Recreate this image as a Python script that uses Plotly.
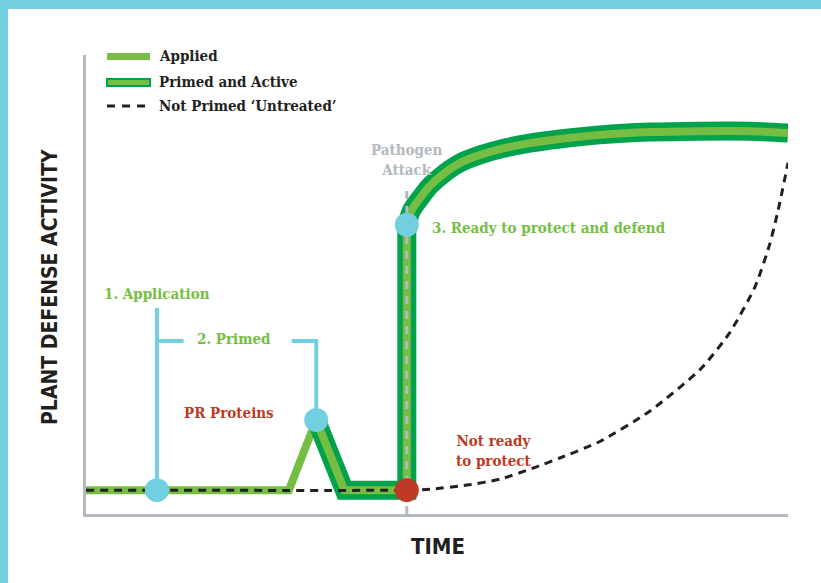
import plotly.graph_objects as go

# time runs 0..100 along the x axis, activity 0..100 up the y axis
baseline = 5.2
app_time = 10.1
rise_start = 28.9
peak_time, peak_level = 32.8, 20.5
drop_end = 36.8
attack_time = 45.7
ready_level = 63.0

# primed and active response after the pathogen attack
primed_t = [45.7, 46.4, 47.6, 49.0, 51.1, 53.3, 56.1, 59.0, 63.2, 67.5, 73.2, 80.3, 87.3, 94.6, 100]
primed_y = [63.0, 66.2, 68.8, 71.5, 74.3, 76.5, 78.2, 79.5, 80.8, 81.7, 82.6, 83.2, 83.4, 83.4, 83.0]

# not primed 'untreated' response
untreated_t = [0, 45.7, 49.0, 54.3, 59.0, 63.7, 67.5, 73.2, 80.3, 87.5, 91.7, 95.3, 97.4, 98.6, 100]
untreated_y = [5.2, 5.2, 5.4, 6.3, 7.6, 10.0, 12.2, 15.8, 22.4, 31.5, 39.5, 49.5, 58.8, 66.2, 76.5]

bracket_level = 37.7
app_top = 44.9
attack_top = 71.7

LIGHT = "#76BE43"
DARK = "#00A24B"
CYAN = "#72CFE0"
RED = "#BE3A26"
GRAY = "#B3B9BF"
INK = "#231F20"
SERIF = "DejaVu Serif Condensed, DejaVu Serif, serif"
BLOCK = "Liberation Sans Narrow, DejaVu Sans Condensed, Arial Narrow, sans-serif"

fig = go.Figure()

# applied line, up to the PR protein peak
fig.add_scatter(
    x=[0, rise_start, peak_time], y=[baseline, baseline, peak_level],
    mode="lines", line=dict(color=LIGHT, width=8), hoverinfo="skip",
)

# primed and active band: straight part, then the smooth rise
straight_t = [peak_time, drop_end, attack_time, attack_time]
straight_y = [peak_level, baseline, baseline, ready_level]
for col, w in [(DARK, 19), (LIGHT, 8)]:
    fig.add_scatter(x=straight_t, y=straight_y, mode="lines",
                    line=dict(color=col, width=w), hoverinfo="skip")
    fig.add_scatter(x=primed_t, y=primed_y, mode="lines",
                    line=dict(color=col, width=w, shape="spline", smoothing=0.8), hoverinfo="skip")

# untreated
fig.add_scatter(
    x=untreated_t, y=untreated_y, mode="lines",
    line=dict(color=INK, width=3, dash="8px,6px", shape="spline", smoothing=0.6),
    hoverinfo="skip",
)

# pathogen attack marker line
fig.add_scatter(
    x=[attack_time, attack_time], y=[0, attack_top], mode="lines",
    line=dict(color=GRAY, width=3, dash="8px,7px"), hoverinfo="skip",
)

# brackets
fig.add_scatter(
    x=[app_time, app_time], y=[baseline, app_top], mode="lines",
    line=dict(color=CYAN, width=4), hoverinfo="skip",
)
fig.add_scatter(
    x=[app_time, 13.9], y=[bracket_level, bracket_level], mode="lines",
    line=dict(color=CYAN, width=4), hoverinfo="skip",
)
fig.add_scatter(
    x=[29.3, peak_time, peak_time], y=[bracket_level, bracket_level, peak_level], mode="lines",
    line=dict(color=CYAN, width=4), hoverinfo="skip",
)

# event markers
fig.add_scatter(
    x=[app_time, peak_time, attack_time], y=[baseline, peak_level, ready_level],
    mode="markers", marker=dict(color=CYAN, size=24, line=dict(width=0)), hoverinfo="skip",
)
fig.add_scatter(
    x=[attack_time], y=[baseline], mode="markers",
    marker=dict(color=RED, size=24, line=dict(width=0)), hoverinfo="skip",
)

labels = [
    ("1. Application", app_time, 47.9, LIGHT, "center"),
    ("2. Primed", 21.1, 38.1, LIGHT, "center"),
    ("PR Proteins", 20.4, 22.0, RED, "center"),
    ("3. Ready to protect and defend", 49.0, 62.3, LIGHT, "left"),
    ("Pathogen<br>Attack", attack_time, 77.1, GRAY, "center"),
    ("Not ready<br>to protect", 58.1, 13.7, RED, "center"),
]
for text, lx, ly, col, anchor in labels:
    fig.add_annotation(
        x=lx, y=ly, text=text, showarrow=False, xanchor=anchor, align="center",
        font=dict(family=SERIF, size=15, color=col, weight="bold"), xref="x", yref="y",
    )


# helpers to place decoration in page pixels
def px(v):
    return (v - 86) / 702


def py(v):
    return (514 - v) / 459


# frame
fig.add_shape(type="rect", xref="paper", yref="paper", x0=px(0), x1=px(821), y0=py(9), y1=py(0),
              fillcolor=CYAN, line_width=0, layer="above")
fig.add_shape(type="rect", xref="paper", yref="paper", x0=px(0), x1=px(8), y0=py(583), y1=py(0),
              fillcolor=CYAN, line_width=0, layer="above")

# legend
fig.add_shape(type="rect", xref="paper", yref="paper", x0=px(107), x1=px(150), y0=py(60), y1=py(53),
              fillcolor=LIGHT, line_width=0)
fig.add_shape(type="rect", xref="paper", yref="paper", x0=px(107), x1=px(150), y0=py(86), y1=py(79),
              fillcolor=LIGHT, line=dict(color=DARK, width=2))
fig.add_shape(type="line", xref="paper", yref="paper", x0=px(107), x1=px(151), y0=py(106), y1=py(106),
              line=dict(color=INK, width=3, dash="8px,7px"))
for text, yy in [("Applied", 56), ("Primed and Active", 82), ("Not Primed \u2018Untreated\u2019", 106)]:
    fig.add_annotation(
        x=px(157), y=py(yy), xref="paper", yref="paper", text=text, showarrow=False,
        xanchor="left", yanchor="middle",
        font=dict(family=SERIF, size=15, color=INK, weight="bold"),
    )

# axis titles
fig.add_annotation(x=px(438), y=py(546), xref="paper", yref="paper", text="<b>TIME</b>",
                   showarrow=False, xanchor="center", yanchor="middle",
                   font=dict(family=BLOCK, size=22, color=INK))
fig.add_annotation(x=px(50), y=py(287), xref="paper", yref="paper", text="<b>PLANT DEFENSE ACTIVITY</b>",
                   showarrow=False, textangle=-90, xanchor="center", yanchor="middle",
                   font=dict(family=BLOCK, size=21, color=INK))

fig.update_xaxes(range=[0, 100], showline=True, linecolor=GRAY, linewidth=3, showgrid=False,
                 zeroline=False, showticklabels=False, ticks="")
fig.update_yaxes(range=[0, 100], showline=True, linecolor=GRAY, linewidth=3, showgrid=False,
                 zeroline=False, showticklabels=False, ticks="")
fig.update_layout(
    width=821, height=583,
    margin=dict(l=86, r=33, t=55, b=69),
    plot_bgcolor="white", paper_bgcolor="white",
    showlegend=False,
)
fig.write_html("out.html", config={"displayModeBar": False},
               post_script="document.body.style.margin='0';")
